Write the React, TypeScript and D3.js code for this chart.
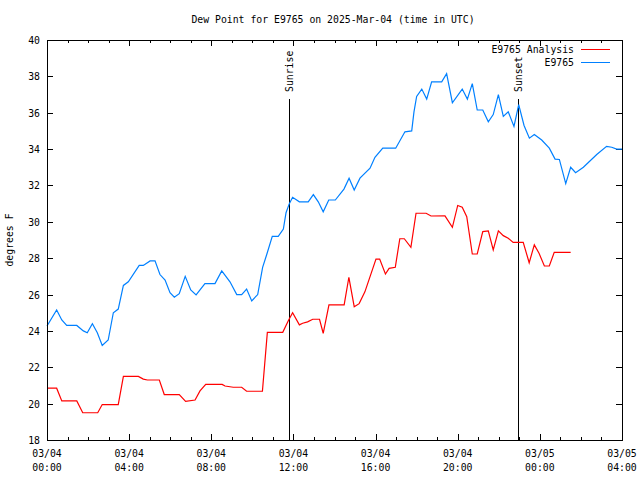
import React from "react";
import * as d3 from "d3";

// Hours since 2025-03-04 00:00 UTC
const obsHours = [0, 0.47, 0.72, 0.96, 1.45, 1.77, 1.96, 2.21, 2.45, 2.69, 2.98, 3.23, 3.47, 3.72, 3.96, 4.49, 4.69, 5.02, 5.26, 5.5, 5.75, 5.99, 6.2, 6.44, 6.73, 7.0, 7.26, 7.69, 8.18, 8.51, 8.91, 9.24, 9.48, 9.72, 9.97, 10.26, 10.5, 10.7, 10.97, 11.26, 11.51, 11.64, 11.8, 11.96, 12.29, 12.72, 12.97, 13.21, 13.45, 13.72, 14.04, 14.46, 14.71, 14.96, 15.24, 15.73, 15.97, 16.35, 16.98, 17.43, 17.76, 17.87, 18.0, 18.25, 18.49, 18.73, 19.22, 19.46, 19.74, 20.22, 20.47, 20.71, 20.95, 21.22, 21.49, 21.73, 21.98, 22.22, 22.46, 22.74, 22.97, 23.23, 23.49, 23.73, 24.09, 24.46, 24.74, 24.95, 25.26, 25.5, 25.74, 26.12, 26.77, 27.25, 27.5, 27.74, 28.0];
const obsValues = [24.27, 25.15, 24.6, 24.3, 24.3, 24.0, 23.9, 24.4, 23.9, 23.2, 23.5, 25.0, 25.2, 26.5, 26.7, 27.6, 27.6, 27.85, 27.85, 27.1, 26.8, 26.1, 25.85, 26.05, 27.0, 26.25, 25.98, 26.6, 26.6, 27.3, 26.7, 26.0, 26.0, 26.3, 25.65, 26.0, 27.5, 28.2, 29.2, 29.2, 29.6, 30.5, 31.0, 31.35, 31.1, 31.1, 31.5, 31.1, 30.55, 31.2, 31.2, 31.8, 32.4, 31.75, 32.4, 32.95, 33.55, 34.05, 34.05, 34.95, 35.0, 36.05, 36.9, 37.3, 36.75, 37.7, 37.7, 38.15, 36.55, 37.3, 36.75, 37.6, 36.15, 36.15, 35.5, 35.9, 37.0, 35.8, 36.05, 35.25, 36.45, 35.3, 34.6, 34.8, 34.5, 34.05, 33.45, 33.43, 32.1, 33.0, 32.7, 33.0, 33.7, 34.15, 34.1, 34.0, 34.0];

const anaHours = [0, 0.47, 0.72, 1.45, 1.74, 2.47, 2.69, 3.47, 3.72, 4.45, 4.69, 4.89, 5.47, 5.71, 6.44, 6.75, 7.21, 7.45, 7.73, 8.53, 8.67, 9.07, 9.48, 9.72, 10.49, 10.73, 11.48, 11.75, 11.96, 12.29, 12.45, 12.69, 12.94, 13.27, 13.45, 13.73, 14.47, 14.7, 14.96, 15.2, 15.48, 16.02, 16.2, 16.48, 16.66, 16.96, 17.18, 17.4, 17.72, 17.97, 18.46, 18.7, 19.38, 19.74, 20.0, 20.22, 20.44, 20.71, 20.95, 21.22, 21.49, 21.73, 21.98, 22.22, 22.46, 22.7, 23.19, 23.48, 23.73, 23.96, 24.22, 24.46, 24.7, 25.5];
const anaValues = [20.85, 20.85, 20.15, 20.15, 19.5, 19.5, 19.95, 19.95, 21.5, 21.5, 21.35, 21.3, 21.3, 20.5, 20.5, 20.12, 20.2, 20.7, 21.06, 21.06, 20.97, 20.9, 20.9, 20.68, 20.68, 23.92, 23.92, 24.56, 25.0, 24.33, 24.42, 24.5, 24.64, 24.64, 23.87, 25.43, 25.43, 26.95, 25.33, 25.5, 26.15, 27.95, 27.95, 27.13, 27.44, 27.5, 29.07, 29.07, 28.6, 30.47, 30.47, 30.32, 30.33, 29.7, 30.9, 30.8, 30.28, 28.23, 28.23, 29.46, 29.5, 28.45, 29.5, 29.24, 29.1, 28.87, 28.87, 27.75, 28.73, 28.27, 27.57, 27.57, 28.32, 28.32];

const yTicks = [18, 20, 22, 24, 26, 28, 30, 32, 34, 36, 38, 40];
const xMajorHours = [0, 4, 8, 12, 16, 20, 24, 28];
const xTickLabels = [
  ["03/04", "00:00"], ["03/04", "04:00"], ["03/04", "08:00"], ["03/04", "12:00"],
  ["03/04", "16:00"], ["03/04", "20:00"], ["03/05", "00:00"], ["03/05", "04:00"],
];
const sunEvents = [
  { label: "Sunrise", hour: 11.78 },
  { label: "Sunset", hour: 22.94 },
];
const seriesNames = ["E9765 Analysis", "E9765"];
const seriesColors = ["#ff0000", "#0080ff"];

const T0 = Date.UTC(2025, 2, 4, 0, 0);
const toDate = (h: number) => new Date(T0 + h * 3600e3);

export default function App() {
  const W = 640, H = 480;
  const left = 47, right = 622, top = 40, bottom = 440;
  const x = d3.scaleUtc().domain([toDate(0), toDate(28)]).range([left, right]);
  const y = d3.scaleLinear().domain([18, 40]).range([bottom, top]);
  const font = "'DejaVu Sans Mono', monospace";
  const fs = 9.8;

  const line = d3.line<[number, number]>()
    .x((d) => x(toDate(d[0])))
    .y((d) => y(d[1]));

  const obs = obsHours.map((h, i) => [h, obsValues[i]] as [number, number]);
  const ana = anaHours.map((h, i) => [h, anaValues[i]] as [number, number]);

  const hourTicks = d3.range(0, 29);

  return (
    <svg width={W} height={H} style={{ position: "absolute", left: 0, top: 0, background: "#fff" }}
      fontFamily={font} fontSize={fs}>
      <rect x={0} y={0} width={W} height={H} fill="#fff" />
      <text x={333} y={23} textAnchor="middle" fill="#000">Dew Point for E9765 on 2025-Mar-04 (time in UTC)</text>

      {/* y ticks */}
      {yTicks.map((t) => (
        <g key={"y" + t} shapeRendering="crispEdges">
          <line x1={left} x2={left + 6} y1={Math.round(y(t)) + 0.5} y2={Math.round(y(t)) + 0.5} stroke="#000" />
          <line x1={right - 6} x2={right} y1={Math.round(y(t)) + 0.5} y2={Math.round(y(t)) + 0.5} stroke="#000" />
          <text x={40} y={y(t) + 4} textAnchor="end" fill="#000" shapeRendering="auto">{t}</text>
        </g>
      ))}

      {/* x ticks */}
      {hourTicks.map((h) => {
        const major = h % 4 === 0;
        const len = major ? 6 : 3;
        const xx = Math.round(x(toDate(h))) + 0.5;
        return (
          <g key={"x" + h} shapeRendering="crispEdges">
            <line x1={xx} x2={xx} y1={bottom} y2={bottom - len} stroke="#000" />
            <line x1={xx} x2={xx} y1={top} y2={top + len} stroke="#000" />
          </g>
        );
      })}
      {xMajorHours.map((h, i) => (
        <g key={"xl" + h}>
          <text x={x(toDate(h))} y={457} textAnchor="middle" fill="#000">{xTickLabels[i][0]}</text>
          <text x={x(toDate(h))} y={471} textAnchor="middle" fill="#000">{xTickLabels[i][1]}</text>
        </g>
      ))}

      <text transform="translate(13,240) rotate(-90)" textAnchor="middle" fill="#000">degrees F</text>

      {/* sun events */}
      {sunEvents.map((s) => {
        const xx = Math.round(x(toDate(s.hour))) + 0.5;
        return (
          <g key={s.label}>
            <line x1={xx} x2={xx} y1={99} y2={bottom} stroke="#000" shapeRendering="crispEdges" />
            <text transform={`translate(${xx + 3.5},92) rotate(-90)`} textAnchor="start" fill="#000">{s.label}</text>
          </g>
        );
      })}

      {/* series */}
      <path d={line(ana) || ""} fill="none" stroke={seriesColors[0]} strokeWidth={1.2} />
      <path d={line(obs) || ""} fill="none" stroke={seriesColors[1]} strokeWidth={1.2} />

      {/* legend */}
      {seriesNames.map((n, i) => (
        <g key={n}>
          <text x={574} y={53 + i * 13} textAnchor="end" fill="#000">{n}</text>
          <line x1={581} x2={610} y1={49.5 + i * 13} y2={49.5 + i * 13} stroke={seriesColors[i]} shapeRendering="crispEdges" />
        </g>
      ))}

      {/* frame */}
      <rect x={left + 0.5} y={top + 0.5} width={right - left} height={bottom - top} fill="none" stroke="#000" shapeRendering="crispEdges" />
    </svg>
  );
}
